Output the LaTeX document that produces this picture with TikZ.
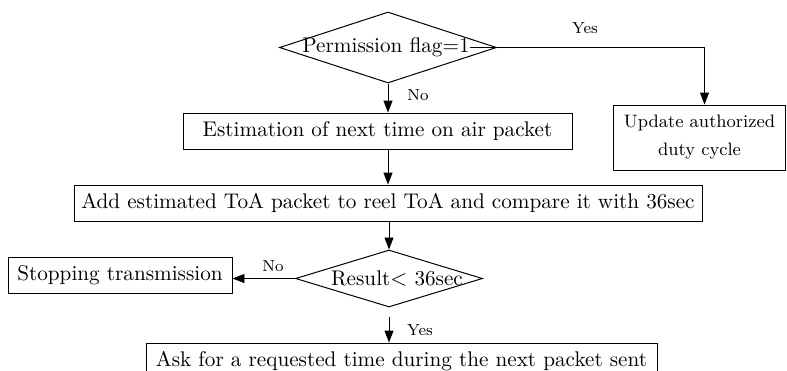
\documentclass[tikz,border=0pt]{standalone}
\usetikzlibrary{shapes.geometric,arrows.meta}
\tikzset{
  box/.style={draw,line width=0.45pt,inner xsep=3pt,minimum height=18pt,font=\mainsize},
  decision/.style={draw,diamond,line width=0.5pt,inner sep=0pt},
  flow/.style={line width=0.45pt,-{Triangle[length=6pt,width=4.5pt]}},
  answer/.style={font=\footnotesize}
}
\newcommand{\mainsize}{\fontsize{10.6}{13}\selectfont}
\begin{document}
\begin{tikzpicture}[x=0.5pt,y=-0.5pt]
\useasboundingbox (0,0) rectangle (787,370);

% the two decisions (text is wider than the diamond)
\node[decision,minimum width=108.5pt,minimum height=35.5pt] (perm) at (388,47.5) {};
\node[inner sep=0pt,font=\mainsize] (permtext) at (386,47) {Permission flag=1};
\node[decision,minimum width=93.5pt,minimum height=28.5pt] (result) at (389,278.5) {};
\node[inner sep=0pt,font=\mainsize] (resulttext) at (397,279) {Result$<$ 36sec};

% the boxes
\node[box,minimum width=194.5pt] (estim) at (377.5,131) {Estimation of next time on air packet};
\node[box,minimum width=314pt] (add) at (388,203) {Add estimated ToA packet to reel ToA and compare it with 36sec};
\node[box,minimum width=86pt,minimum height=32.5pt,align=center,
      font=\fontsize{9}{14}\selectfont] (update) at (699.5,137.5) {Update authorized\\duty cycle};
\node[box,minimum width=112pt] (stop) at (120,275) {Stopping transmission};
\node[box,minimum width=255.5pt] (ask) at (401.5,361) {Ask for a requested time during the next packet sent};

% free start of the last arrow
\coordinate (gap) at ([yshift=-4.5pt]result.south);

% the arrows
\draw[flow] (permtext.east) -| ([xshift=2.5pt]update.north);
\draw[flow] (perm.south) -- (perm.south |- estim.north);
\draw[flow] (estim.south -| perm.south) -- (perm.south |- add.north);
\draw[flow] (add.south -| result.north) -- (result.north);
\draw[flow] (result.west) -- (result.west -| stop.east);
\draw[flow] (gap) -- (gap |- ask.north);

% yes / no labels
\node[answer] (yes1) at (585,28) {Yes};
\node[answer] (no1) at (418,95) {No};
\node[answer] (no2) at (273,266) {No};
\node[answer] (yes2) at (420,330) {Yes};
\end{tikzpicture}
\end{document}
